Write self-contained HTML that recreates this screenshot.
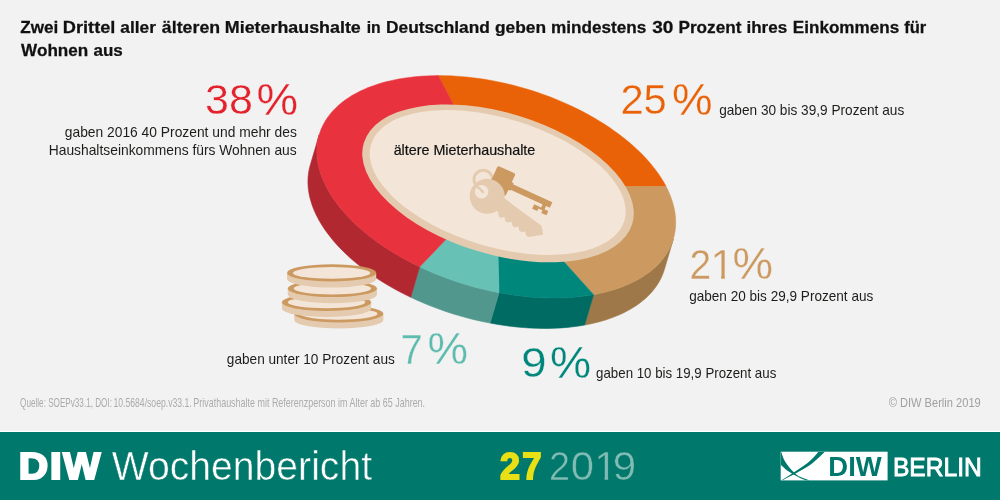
<!DOCTYPE html>
<html lang="de"><head><meta charset="utf-8"><title>DIW Wochenbericht 27 2019</title>
<style>html,body{margin:0;padding:0;background:#f2f2f2;}body{width:1000px;height:500px;overflow:hidden;font-family:"Liberation Sans",sans-serif;}svg{display:block}text{white-space:pre}</style>
</head><body>
<svg width="1000" height="500" viewBox="0 0 1000 500" font-family="'Liberation Sans', sans-serif">
<rect width="1000" height="500" fill="#f2f2f2"/>
<!-- donut -->
<polygon points="673.39,238.92 672.22,242.46 670.82,245.92 669.19,249.30 667.33,252.60 665.25,255.82 662.94,258.94 660.41,261.97 657.67,264.90 654.71,267.72 651.54,270.44 648.17,273.05 644.59,275.54 640.83,277.92 636.86,280.18 632.72,282.31 628.39,284.32 623.89,286.19 619.22,287.94 614.39,289.55 609.41,291.03 604.27,292.37 598.99,293.57 593.57,294.63 584.62,325.04 590.04,323.98 595.32,322.78 600.45,321.44 605.44,319.96 610.27,318.35 614.94,316.60 619.44,314.73 623.77,312.72 627.91,310.59 631.87,308.33 635.64,305.95 639.22,303.46 642.59,300.85 645.76,298.13 648.72,295.31 651.46,292.38 653.99,289.35 656.30,286.23 658.38,283.01 660.24,279.71 661.87,276.33 663.27,272.87 664.44,269.33" fill="#9e7849" stroke="#9e7849" stroke-width="0.6" stroke-linejoin="round"/>
<polygon points="593.57,294.63 587.90,295.57 582.10,296.35 576.18,296.99 570.15,297.47 564.02,297.80 557.80,297.97 551.49,297.99 545.10,297.86 538.65,297.58 532.14,297.14 525.58,296.55 518.97,295.80 512.34,294.91 505.69,293.87 499.02,292.68 490.07,323.09 496.74,324.28 503.39,325.32 510.02,326.21 516.63,326.96 523.19,327.55 529.70,327.99 536.15,328.27 542.54,328.40 548.85,328.38 555.07,328.21 561.20,327.88 567.23,327.40 573.15,326.76 578.95,325.98 584.62,325.04" fill="#006b63" stroke="#006b63" stroke-width="0.6" stroke-linejoin="round"/>
<polygon points="499.02,292.68 492.72,291.42 486.43,290.03 480.15,288.51 473.89,286.88 467.65,285.11 461.46,283.23 455.30,281.23 449.20,279.11 443.15,276.87 437.17,274.53 431.26,272.08 425.44,269.52 419.70,266.86 410.75,297.27 416.49,299.93 422.31,302.49 428.22,304.94 434.20,307.28 440.25,309.52 446.35,311.64 452.51,313.64 458.70,315.52 464.94,317.29 471.20,318.93 477.48,320.44 483.77,321.83 490.07,323.09" fill="#52978d" stroke="#52978d" stroke-width="0.6" stroke-linejoin="round"/>
<polygon points="419.70,266.86 414.08,264.12 408.56,261.28 403.15,258.36 397.86,255.34 392.68,252.24 387.63,249.07 382.72,245.81 377.94,242.49 373.30,239.09 368.82,235.64 364.49,232.12 360.32,228.55 356.32,224.93 352.49,221.26 348.83,217.55 345.35,213.80 342.06,210.02 338.95,206.21 336.04,202.37 333.32,198.52 330.80,194.66 328.48,190.78 326.37,186.90 324.46,183.02 322.76,179.14 321.28,175.27 320.00,171.42 318.94,167.59 318.10,163.78 317.48,159.99 317.07,156.24 316.88,152.53 316.91,148.86 317.16,145.23 317.63,141.66 318.31,138.14 319.21,134.68 310.26,165.09 309.36,168.55 308.68,172.07 308.21,175.64 307.96,179.27 307.93,182.94 308.12,186.65 308.53,190.40 309.15,194.19 309.99,198.00 311.05,201.83 312.32,205.68 313.81,209.55 315.51,213.43 317.42,217.31 319.53,221.19 321.85,225.07 324.37,228.93 327.09,232.78 330.00,236.62 333.11,240.43 336.40,244.21 339.88,247.96 343.54,251.67 347.37,255.34 351.37,258.96 355.54,262.53 359.87,266.05 364.35,269.50 368.99,272.90 373.77,276.22 378.68,279.48 383.73,282.65 388.91,285.75 394.20,288.77 399.61,291.69 405.13,294.53 410.75,297.27" fill="#b22830" stroke="#b22830" stroke-width="0.6" stroke-linejoin="round"/>
<polygon points="496.30,186.80 438.27,75.60 444.24,75.65 450.26,75.84 456.34,76.17 462.47,76.63 468.64,77.22 474.84,77.95 481.07,78.81 487.32,79.80 493.58,80.92 499.85,82.18 506.10,83.56 512.35,85.06 518.58,86.69 524.78,88.44 530.94,90.31 537.07,92.30 543.14,94.40 549.16,96.62 555.11,98.94 560.99,101.38 566.79,103.91 572.51,106.55 578.13,109.29 583.65,112.12 589.07,115.04 594.37,118.04 599.56,121.14 604.62,124.31 609.54,127.56 614.33,130.88 618.98,134.27 623.47,137.72 627.81,141.23 631.99,144.80 636.01,148.42 639.85,152.08 643.52,155.79 647.01,159.54 650.32,163.32 653.44,167.13 656.36,170.96 659.10,174.81 661.63,178.67 663.96,182.55 666.09,186.43" fill="#ea6208" stroke="#ea6208" stroke-width="0.5" stroke-linejoin="round"/>
<polygon points="496.30,186.80 666.09,186.43 668.02,190.31 669.73,194.19 671.23,198.06 672.52,201.92 673.59,205.76 674.45,209.57 675.09,213.36 675.51,217.11 675.71,220.83 675.70,224.51 675.46,228.14 675.01,231.71 674.34,235.24 673.45,238.71 672.35,242.11 671.03,245.44 669.50,248.71 667.75,251.89 665.80,255.00 663.64,258.03 661.28,260.97 658.72,263.81 655.95,266.57 653.00,269.23 649.85,271.78 646.51,274.23 642.99,276.58 639.30,278.82 635.42,280.94 631.38,282.95 627.18,284.84 622.81,286.62 618.29,288.27 613.62,289.79 608.81,291.20 603.86,292.47 598.78,293.61 593.57,294.63" fill="#cc9a60" stroke="#cc9a60" stroke-width="0.5" stroke-linejoin="round"/>
<polygon points="496.30,186.80 593.57,294.63 587.90,295.57 582.10,296.35 576.18,296.99 570.15,297.47 564.02,297.80 557.80,297.97 551.49,297.99 545.10,297.86 538.65,297.58 532.14,297.14 525.58,296.55 518.97,295.80 512.34,294.91 505.69,293.87 499.02,292.68" fill="#00877c" stroke="#00877c" stroke-width="0.5" stroke-linejoin="round"/>
<polygon points="496.30,186.80 499.02,292.68 492.72,291.42 486.43,290.03 480.15,288.51 473.89,286.88 467.65,285.11 461.46,283.23 455.30,281.23 449.20,279.11 443.15,276.87 437.17,274.53 431.26,272.08 425.44,269.52 419.70,266.86" fill="#67c1b5" stroke="#67c1b5" stroke-width="0.5" stroke-linejoin="round"/>
<polygon points="496.30,186.80 419.70,266.86 414.00,264.08 408.41,261.20 402.93,258.23 397.57,255.17 392.33,252.03 387.22,248.80 382.25,245.49 377.42,242.11 372.74,238.67 368.21,235.15 363.84,231.58 359.64,227.95 355.61,224.27 351.76,220.54 348.09,216.77 344.60,212.96 341.31,209.12 338.21,205.25 335.30,201.36 332.60,197.45 330.10,193.53 327.81,189.59 325.73,185.66 323.87,181.73 322.22,177.80 320.79,173.88 319.58,169.98 318.59,166.10 317.82,162.25 317.28,158.43 316.96,154.64 316.87,150.89 317.00,147.19 317.35,143.54 317.93,139.94 318.73,136.40 319.76,132.93 321.00,129.52 322.47,126.18 324.15,122.92 326.05,119.74 328.16,116.64 330.48,113.63 333.01,110.72 335.75,107.89 338.68,105.17 341.82,102.55 345.14,100.03 348.66,97.63 352.36,95.33 356.24,93.15 360.30,91.09 364.52,89.15 368.92,87.32 373.47,85.63 378.17,84.06 383.03,82.62 388.02,81.31 393.15,80.13 398.41,79.08 403.79,78.17 409.29,77.40 414.90,76.76 420.61,76.26 426.41,75.90 432.30,75.68 438.27,75.60" fill="#e8323d" stroke="#e8323d" stroke-width="0.5" stroke-linejoin="round"/>
<ellipse cx="498.0" cy="183.4" rx="140.2" ry="70.7" transform="rotate(16.8 498.0 183.4)" fill="#e4cbb0" />
<ellipse cx="497.7" cy="182.5" rx="132.3" ry="64.2" transform="rotate(16.8 497.7 182.5)" fill="#f3e6d9" />
<!-- coins -->
<path d="M 294.2 313.8 v 6.1 a 44.6 8.6 0 0 0 89.2 0 v -6.1 z" fill="#e4cbb0"/>
<ellipse cx="338.8" cy="313.8" rx="44.6" ry="8.6" fill="#cc9a60"/>
<ellipse cx="338.8" cy="313.8" rx="38.7" ry="5.9" fill="#f3e6d9"/>
<path d="M 281.9 302.3 v 6.1 a 44.6 8.6 0 0 0 89.2 0 v -6.1 z" fill="#e4cbb0"/>
<ellipse cx="326.5" cy="302.3" rx="44.6" ry="8.6" fill="#cc9a60"/>
<ellipse cx="326.5" cy="302.3" rx="38.7" ry="5.9" fill="#f3e6d9"/>
<path d="M 287.79999999999995 288.5 v 6.1 a 44.6 8.6 0 0 0 89.2 0 v -6.1 z" fill="#e4cbb0"/>
<ellipse cx="332.4" cy="288.5" rx="44.6" ry="8.6" fill="#cc9a60"/>
<ellipse cx="332.4" cy="288.5" rx="38.7" ry="5.9" fill="#f3e6d9"/>
<path d="M 287.0 272.9 v 6.1 a 44.6 8.6 0 0 0 89.2 0 v -6.1 z" fill="#e4cbb0"/>
<ellipse cx="331.6" cy="272.9" rx="44.6" ry="8.6" fill="#cc9a60"/>
<ellipse cx="331.6" cy="272.9" rx="38.7" ry="5.9" fill="#f3e6d9"/>
<!-- key -->
<circle cx="483.2" cy="179.4" r="9.2" fill="none" stroke="#e4cbb0" stroke-width="2.9"/>
<g transform="translate(497.9 165.7) rotate(24.5)" fill="#cc9a60">
<rect x="0" y="0" width="19.5" height="24.5" rx="1.8"/>
<rect x="19" y="9.3" width="2.6" height="8.4"/>
<rect x="19" y="10.6" width="45.7" height="6"/>
<rect x="56.7" y="15.6" width="3.8" height="6.5"/>
<rect x="59.0" y="20.4" width="5.7" height="4.6"/>
<rect x="49.0" y="20.0" width="5.6" height="5"/>
<rect x="54.2" y="20.2" width="3" height="2"/>
</g>
<polygon points="496.00,210.60 498.00,211.80 498.80,216.60 500.40,217.80 504.40,217.00 505.20,221.00 507.20,222.60 511.60,221.80 512.40,225.80 514.40,227.40 518.40,226.40 519.20,230.60 521.60,232.20 525.20,231.40 526.00,235.40 528.40,237.00 543.20,234.80 541.60,225.80 513.20,205.00 504.80,198.30 490.00,196.00" fill="#e4cbb0"/>
<circle cx="487.2" cy="196.3" r="17.5" fill="#e4cbb0"/>
<circle cx="481.6" cy="191.8" r="6.8" fill="#f3e6d9"/>
<clipPath id="hole"><circle cx="481.6" cy="192" r="6.7"/></clipPath>
<path d="M 476.0 186.0 Q 480 188.5 483.0 192.0" fill="none" stroke="#e4cbb0" stroke-width="2.6" stroke-linecap="round"/>
<!-- text -->
<text transform="translate(20.36 32.90) scale(1.0497 1)" font-size="16.30" font-weight="bold" fill="#111" stroke="#111" stroke-width="0.25" stroke-linejoin="miter" >Zwei</text>
<text transform="translate(62.73 32.90) scale(1.1194 1)" font-size="16.30" font-weight="bold" fill="#111" stroke="#111" stroke-width="0.25" stroke-linejoin="miter" >Drittel</text>
<text transform="translate(120.35 32.90) scale(1.0607 1)" font-size="16.30" font-weight="bold" fill="#111" stroke="#111" stroke-width="0.25" stroke-linejoin="miter" >aller</text>
<text transform="translate(161.85 32.90) scale(1.0904 1)" font-size="16.30" font-weight="bold" fill="#111" stroke="#111" stroke-width="0.25" stroke-linejoin="miter" >älteren</text>
<text transform="translate(224.81 32.90) scale(1.0960 1)" font-size="16.30" font-weight="bold" fill="#111" stroke="#111" stroke-width="0.25" stroke-linejoin="miter" >Mieterhaushalte</text>
<text transform="translate(366.64 32.90) scale(0.9662 1)" font-size="16.30" font-weight="bold" fill="#111" stroke="#111" stroke-width="0.25" stroke-linejoin="miter" >in</text>
<text transform="translate(386.04 32.90) scale(1.0626 1)" font-size="16.30" font-weight="bold" fill="#111" stroke="#111" stroke-width="0.25" stroke-linejoin="miter" >Deutschland</text>
<text transform="translate(494.98 32.90) scale(1.0652 1)" font-size="16.30" font-weight="bold" fill="#111" stroke="#111" stroke-width="0.25" stroke-linejoin="miter" >geben</text>
<text transform="translate(551.05 32.90) scale(1.0523 1)" font-size="16.30" font-weight="bold" fill="#111" stroke="#111" stroke-width="0.25" stroke-linejoin="miter" >mindestens</text>
<text transform="translate(652.23 32.90) scale(1.1705 1)" font-size="16.30" font-weight="bold" fill="#111" stroke="#111" stroke-width="0.25" stroke-linejoin="miter" >30</text>
<text transform="translate(678.45 32.90) scale(1.0558 1)" font-size="16.30" font-weight="bold" fill="#111" stroke="#111" stroke-width="0.25" stroke-linejoin="miter" >Prozent</text>
<text transform="translate(746.46 32.90) scale(1.0448 1)" font-size="16.30" font-weight="bold" fill="#111" stroke="#111" stroke-width="0.25" stroke-linejoin="miter" >ihres</text>
<text transform="translate(792.86 32.90) scale(1.0479 1)" font-size="16.30" font-weight="bold" fill="#111" stroke="#111" stroke-width="0.25" stroke-linejoin="miter" >Einkommens</text>
<text transform="translate(904.27 32.90) scale(1.0145 1)" font-size="16.30" font-weight="bold" fill="#111" stroke="#111" stroke-width="0.25" stroke-linejoin="miter" >für</text>
<text transform="translate(21.12 55.90) scale(1.0499 1)" font-size="16.30" font-weight="bold" fill="#111" stroke="#111" stroke-width="0.25" stroke-linejoin="miter" >Wohnen</text>
<text transform="translate(93.46 55.90) scale(1.0434 1)" font-size="16.30" font-weight="bold" fill="#111" stroke="#111" stroke-width="0.25" stroke-linejoin="miter" >aus</text>
<text transform="translate(205.00 114.49) scale(1.0213 1)" font-size="42.16" font-weight="normal" fill="#e3222c" stroke="#f2f2f2" stroke-width="0.3" >38</text><text transform="translate(256.39 115.45) scale(1.0426 1)" font-size="44.94" font-weight="normal" fill="#e3222c" stroke="#f2f2f2" stroke-width="0.3" >%</text>
<text transform="translate(64.77 137.10) scale(0.9877 1)" font-size="14.00" font-weight="normal" fill="#1d1d1b" >gaben 2016 40 Prozent und mehr des</text>
<text transform="translate(48.72 154.60) scale(0.9885 1)" font-size="14.00" font-weight="normal" fill="#1d1d1b" >Haushaltseinkommens fürs Wohnen aus</text>
<text transform="translate(620.39 114.30) scale(0.9972 1)" font-size="41.88" font-weight="normal" fill="#ea6208" stroke="#f2f2f2" stroke-width="0.3" >25</text><text transform="translate(671.92 115.45) scale(1.0157 1)" font-size="44.94" font-weight="normal" fill="#ea6208" stroke="#f2f2f2" stroke-width="0.3" >%</text>
<text transform="translate(719.17 114.50) scale(0.9754 1)" font-size="14.00" font-weight="normal" fill="#1d1d1b" >gaben 30 bis 39,9 Prozent aus</text>
<text transform="translate(689.52 278.65) scale(0.9211 1)" font-size="42.38" font-weight="normal" fill="#cc9a60" stroke="#f2f2f2" stroke-width="0.3" >2</text><text transform="translate(732.42 279.45) scale(1.0157 1)" font-size="44.94" font-weight="normal" fill="#cc9a60" stroke="#f2f2f2" stroke-width="0.3" >%</text>
<clipPath id="c1_1"><polygon points="3.11,-30.05 14.92,-30.05 14.92,-3.52 14.38,-3.52 14.38,5.00 10.71,5.00 10.71,-3.52 3.11,-3.52"/></clipPath><text transform="translate(710.42 278.50)" clip-path="url(#c1_1)" font-size="42.44" fill="#cc9a60" stroke="#f2f2f2" stroke-width="0.3">1</text>
<text transform="translate(689.18 300.60) scale(0.9702 1)" font-size="14.00" font-weight="normal" fill="#1d1d1b" >gaben 20 bis 29,9 Prozent aus</text>
<text transform="translate(521.22 376.80) scale(1.0850 1)" font-size="41.88" font-weight="normal" fill="#00877c" stroke="#f2f2f2" stroke-width="0.3" >9</text><text transform="translate(549.90 377.95) scale(1.0291 1)" font-size="44.94" font-weight="normal" fill="#00877c" stroke="#f2f2f2" stroke-width="0.3" >%</text>
<text transform="translate(596.08 377.50) scale(0.9495 1)" font-size="14.00" font-weight="normal" fill="#1d1d1b" >gaben 10 bis 19,9 Prozent aus</text>
<text transform="translate(400.47 363.65) scale(0.9463 1)" font-size="42.38" font-weight="normal" fill="#5dbcae" stroke="#f2f2f2" stroke-width="0.3" >7</text><text transform="translate(427.42 363.96) scale(1.0317 1)" font-size="44.24" font-weight="normal" fill="#5dbcae" stroke="#f2f2f2" stroke-width="0.3" >%</text>
<text transform="translate(226.87 364.00) scale(0.9726 1)" font-size="14.00" font-weight="normal" fill="#1d1d1b" >gaben unter 10 Prozent aus</text>
<text transform="translate(393.65 154.60) scale(1.0094 1)" font-size="14.20" font-weight="normal" fill="#111" stroke="#111" stroke-width="0.2" stroke-linejoin="miter" >ältere Mieterhaushalte</text>
<text transform="translate(20.12 407.20) scale(0.6782 1)" font-size="12.00" font-weight="normal" fill="#ababab" >Quelle: SOEPv33.1, DOI:</text>
<text transform="translate(113.46 407.20) scale(0.7202 1)" font-size="12.00" font-weight="normal" fill="#ababab" >10.5684/soep.v33.1.</text>
<text transform="translate(193.30 407.20) scale(0.7464 1)" font-size="12.00" font-weight="normal" fill="#ababab" >Privathaushalte mit Referenzperson im Alter ab 65 Jahren.</text>
<text transform="translate(888.70 406.80) scale(0.9257 1)" font-size="12.00" font-weight="normal" fill="#a0a0a0" >© DIW Berlin 2019</text>
<!-- footer -->
<rect x="0" y="430.9" width="1000" height="1.2" fill="#ffffff"/>
<rect x="0" y="432" width="1000" height="68" fill="#00786b"/>
<text transform="translate(18.76 479.10) scale(1.0742 1)" font-size="37.83" font-weight="bold" fill="#fff" stroke="#fff" stroke-width="2.2" stroke-linejoin="miter" >D</text>
<text transform="translate(49.78 479.10) scale(1.1504 1)" font-size="37.83" font-weight="bold" fill="#fff" stroke="#fff" stroke-width="2.2" stroke-linejoin="miter" >I</text>
<text transform="translate(63.30 479.10) scale(1.0372 1)" font-size="37.83" font-weight="bold" fill="#fff" stroke="#fff" stroke-width="2.2" stroke-linejoin="miter" >W</text>
<text transform="translate(111.75 480.00) scale(0.9665 1)" font-size="40.50" font-weight="normal" fill="#fff" stroke="#00786b" stroke-width="0.5" >Wochenbericht</text>
<text transform="translate(499.97 479.30) scale(0.9588 1)" font-size="37.55" font-weight="bold" fill="#e8e015" stroke="#e8e015" stroke-width="1.8" stroke-linejoin="miter" >2</text>
<text transform="translate(522.22 479.30) scale(0.9238 1)" font-size="37.55" font-weight="bold" fill="#e8e015" stroke="#e8e015" stroke-width="1.8" stroke-linejoin="miter" >7</text>
<text transform="translate(548.98 480.45) scale(0.9187 1)" font-size="41.10" font-weight="normal" fill="#80bbb4" stroke="#00786b" stroke-width="0.5" >2</text>
<text transform="translate(570.84 480.02) scale(1.0324 1)" font-size="40.49" font-weight="normal" fill="#80bbb4" stroke="#00786b" stroke-width="0.5" >0</text>
<text transform="translate(612.78 480.02) scale(1.0380 1)" font-size="40.49" font-weight="normal" fill="#80bbb4" stroke="#00786b" stroke-width="0.5" >9</text>
<clipPath id="c1_2"><polygon points="3.00,-29.02 14.41,-29.02 14.41,-3.40 13.89,-3.40 13.89,5.00 10.35,5.00 10.35,-3.40 3.00,-3.40"/></clipPath><text transform="translate(594.26 480.20)" clip-path="url(#c1_2)" font-size="40.99" fill="#80bbb4" stroke="#00786b" stroke-width="0.5">1</text>
<rect x="780.7" y="451.7" width="106.9" height="28.7" fill="#fff"/>
<clipPath id="lg"><rect x="780.7" y="451.7" width="106.9" height="28.7"/></clipPath>
<g clip-path="url(#lg)" fill="#00786b">
<path d="M 782 480.4 C 784.33 479.20 791.40 475.73 796.00 473.20 C 800.60 470.67 805.73 467.87 809.60 465.20 C 813.47 462.53 816.67 459.43 819.20 457.20 C 821.73 454.97 823.87 452.70 824.80 451.80 L 818.4 451.8 C 817.73 452.57 816.27 454.50 814.40 456.40 C 812.53 458.30 810.73 460.47 807.20 463.20 C 803.67 465.93 797.40 470.00 793.20 472.80 C 789.00 475.60 783.87 478.80 782.00 480.00 Z"/>
<path d="M 781.2 451.8 C 781.67 453.10 782.73 457.10 784.00 459.60 C 785.27 462.10 787.13 464.67 788.80 466.80 C 790.47 468.93 792.13 470.73 794.00 472.40 C 795.87 474.07 797.40 475.47 800.00 476.80 C 802.60 478.13 808.00 479.80 809.60 480.40 L 806.4 480.4 C 805.33 480.00 802.27 479.07 800.00 478.00 C 797.73 476.93 795.07 475.33 792.80 474.00 C 790.53 472.67 788.40 471.53 786.40 470.00 C 784.40 468.47 781.73 465.67 780.80 464.80 L 780.6 451.6 Z"/>
</g>
<text transform="translate(828.28 475.90) scale(1.0187 1)" font-size="27.00" font-weight="bold" fill="#00786b" >DIW</text>
<text transform="translate(892.93 475.90) scale(0.9255 1)" font-size="26.60" font-weight="normal" fill="#fff" stroke="#fff" stroke-width="0.9" stroke-linejoin="miter" >BERLIN</text>
</svg>
</body></html>
